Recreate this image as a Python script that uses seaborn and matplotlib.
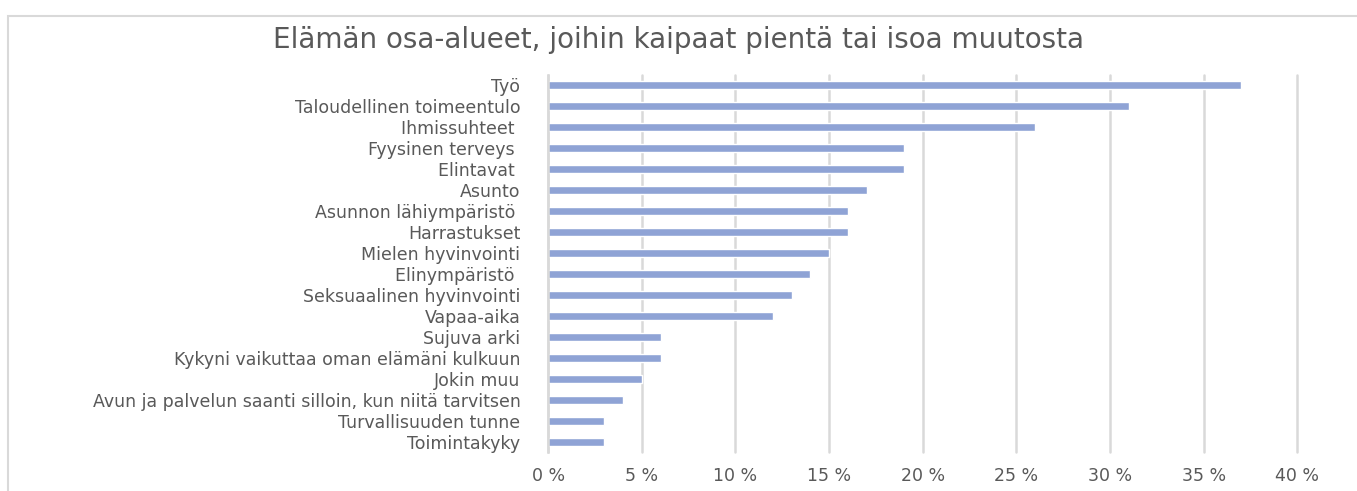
import pandas as pd
import numpy as np
import matplotlib
matplotlib.use("Agg")
import matplotlib.pyplot as plt
import seaborn as sns
from matplotlib.patches import Rectangle

# --- data (percent)
categories = ['Työ', 'Taloudellinen toimeentulo', 'Ihmissuhteet ', 'Fyysinen terveys ',
              'Elintavat ', 'Asunto', 'Asunnon lähiympäristö ', 'Harrastukset',
              'Mielen hyvinvointi', 'Elinympäristö ', 'Seksuaalinen hyvinvointi',
              'Vapaa-aika', 'Sujuva arki', 'Kykyni vaikuttaa oman elämäni kulkuun',
              'Jokin muu', 'Avun ja palvelun saanti silloin, kun niitä tarvitsen',
              'Turvallisuuden tunne', 'Toimintakyky']
values = [37, 31, 26, 19, 19, 17, 16, 16, 15, 14, 13, 12, 6, 6, 5, 4, 3, 3]
xticks = [0, 5, 10, 15, 20, 25, 30, 35, 40]

df = pd.DataFrame({'alue': categories, 'osuus': values})

sns.set_theme(style='white')
plt.rcParams['font.family'] = ['DejaVu Sans']
text_col = '#595959'

fig = plt.figure(figsize=(13.57, 4.91), dpi=100)
ax = fig.add_axes([0.404, 0.079, 0.552, 0.769])

sns.barplot(data=df, x='osuus', y='alue', orient='h', color='#8FA3D5',
            saturation=1, width=0.38, ax=ax)

ax.set_xlim(0, 40)
ax.set_xticks(xticks)
ax.set_xticklabels([f'{t} %' for t in xticks])
ax.xaxis.grid(True, color='#D9D9D9', linewidth=1.8)
for gl in ax.get_xgridlines():
    gl.set_clip_on(False)
ax.set_axisbelow(True)
ax.set_xlabel('')
ax.set_ylabel('')
for s in ['top', 'right', 'bottom']:
    ax.spines[s].set_visible(False)
ax.spines['left'].set_color('#D9D9D9')
ax.spines['left'].set_linewidth(1.8)
ax.tick_params(axis='y', length=0, pad=20, labelsize=12.5, labelcolor=text_col)
ax.tick_params(axis='x', length=0, pad=11, labelsize=12.5, labelcolor=text_col)

fig.text(0.5, 0.918, 'Elämän osa-alueet, joihin kaipaat pientä tai isoa muutosta',
         ha='center', va='center', fontsize=20, color=text_col)

fig.patches.append(Rectangle((8 / 1357, -0.02), 1.02, 1 - 16 / 491 + 0.02,
                             transform=fig.transFigure, fill=False,
                             edgecolor='#D9D9D9', linewidth=1.5))

fig.savefig('out.png', dpi=100)
